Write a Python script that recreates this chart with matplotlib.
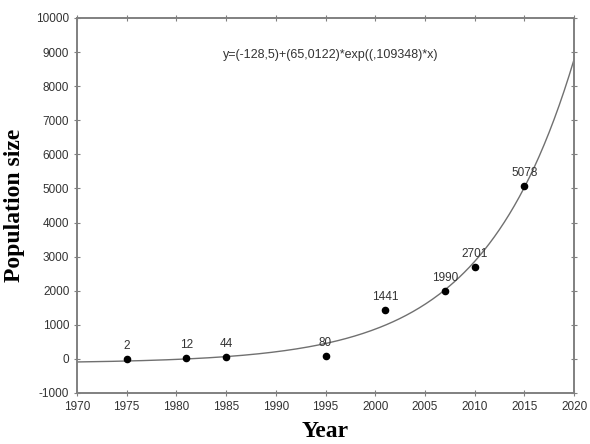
import numpy as np
import matplotlib.pyplot as plt

plt.rcParams['axes.unicode_minus'] = False

years = [1975, 1981, 1985, 1995, 2001, 2007, 2010, 2015]
population = [2, 12, 44, 80, 1441, 1990, 2701, 5078]
labels = ["2", "12", "44", "80", "1441", "1990", "2701", "5078"]

# fitted model shown on the chart, x = years since 1975
a, b, c = -128.5, 65.0122, 0.109348
fit_x = np.linspace(1970, 2020, 300)
fit_y = a + b * np.exp(c * (fit_x - 1975))

fig = plt.figure(figsize=(5.9, 4.44), dpi=100)
ax = fig.add_axes([0.1305, 0.115, 0.8425, 0.8445])

ax.plot(fit_x, fit_y, color="#707070", lw=1.0)
ax.scatter(years, population, s=20, color="black", zorder=3)
for xv, yv, lab in zip(years, population, labels):
    ax.annotate(lab, (xv, yv), xytext=(0, 5), textcoords="offset points",
                ha="center", va="bottom", fontsize=8.5, color="#333333",
                family="Liberation Sans")

ax.text(1995.5, 8900, "y=(-128,5)+(65,0122)*exp((,109348)*x)", ha="center",
        va="center", fontsize=9, color="#333333", family="Liberation Sans")

ax.set_xlim(1970, 2020)
ax.set_ylim(-1000, 10000)
ax.set_xticks(range(1970, 2021, 5))
ax.set_yticks(range(-1000, 10001, 1000))

for side in ax.spines.values():
    side.set_color("#808080")
    side.set_linewidth(1.4)
ax.tick_params(direction="inout", length=4, color="#808080", top=True,
               right=True, labelsize=8.5, labelcolor="#333333")
for t in ax.get_xticklabels() + ax.get_yticklabels():
    t.set_family("Liberation Sans")

ax.set_xlabel("Year", family="Liberation Serif", fontweight="bold",
              fontsize=17, labelpad=6)
ax.set_ylabel("Population size", family="Liberation Serif", fontweight="bold",
              fontsize=17, labelpad=8)

fig.savefig("out.png")
